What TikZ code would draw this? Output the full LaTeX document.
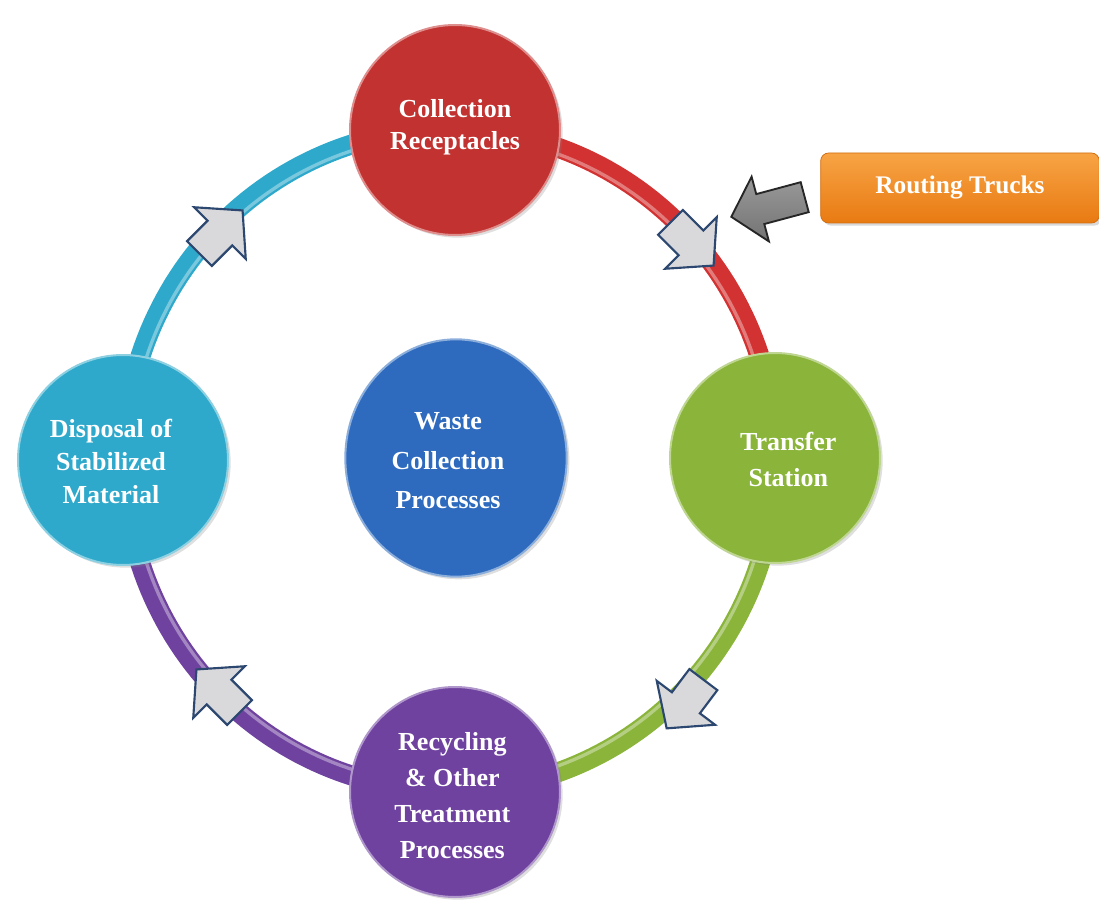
\documentclass[tikz,border=0pt]{standalone}
\usepackage{fontspec}
\setmainfont{Liberation Serif}
\usetikzlibrary{shadows,shapes.geometric}
\definecolor{cred}{HTML}{C23230}
\definecolor{rred}{HTML}{D33232}
\definecolor{cgreen}{HTML}{8AB43A}
\definecolor{cpurple}{HTML}{6F42A0}
\definecolor{ccyan}{HTML}{2FA9CB}
\definecolor{cblue}{HTML}{2E6BBE}
\definecolor{oranget}{HTML}{F7A445}
\definecolor{orangeb}{HTML}{E97A12}
\definecolor{agray}{HTML}{D9D9DB}
\definecolor{aedge}{HTML}{2C4870}
\definecolor{dgray}{HTML}{808080}
\tikzset{
  bubble/.style={circle, minimum size=157.5pt, inner sep=0pt, fill=#1, draw=#1!55!white, line width=1.5pt,
    drop shadow={opacity=0.25, shadow xshift=2pt, shadow yshift=-2pt}},
  txt/.style={align=center, text=white, font=\bfseries\fontsize{19.5}{#1}\selectfont},
  band/.style={line width=15pt, draw=#1},
  shine/.style={line width=2.5pt, draw=#1!55!white, opacity=0.8},
  blockarr/.pic={\draw[fill=agray, draw=aedge, line width=1.6pt, line join=miter]
     (-30.5,-17.5) -- (-1.5,-17.5) -- (-1.5,-36.5) -- (30.5,0) -- (-1.5,36.5) -- (-1.5,17.5) -- (-30.5,17.5) -- cycle;},
  grayarr/.pic={\draw[top color=dgray!80!white, bottom color=dgray!90!black, draw=black!85, line width=1.4pt, line join=miter]
     (-38,-15.5) -- (8,-15.5) -- (8,-33.5) -- (38,0) -- (8,33.5) -- (8,15.5) -- (-38,15.5) -- cycle;},
  routebox/.style={rounded corners=6pt, minimum width=209pt, minimum height=52.5pt, inner sep=0pt,
    top color=oranget, bottom color=orangeb, draw=orangeb!90!black, line width=0.6pt,
    text=white, font=\bfseries\fontsize{19}{23}\selectfont,
    drop shadow={opacity=0.3, shadow xshift=2pt, shadow yshift=-2pt}}
}
\begin{document}
\begin{tikzpicture}[x=0.75pt, y=-0.75pt]
\useasboundingbox (0,0) rectangle (1099,902);
% ring segments
\draw[band=rred] plot[domain=-90:0, samples=60] ({450+326*cos(\x)},{460+331*sin(\x)});
\draw[band=cgreen] plot[domain=0:90, samples=60] ({450+326*cos(\x)},{460+331*sin(\x)});
\draw[band=cpurple] plot[domain=90:180, samples=60] ({450+326*cos(\x)},{460+331*sin(\x)});
\draw[band=ccyan] plot[domain=180:270, samples=60] ({450+326*cos(\x)},{460+331*sin(\x)});
\draw[shine=rred] plot[domain=-90:0, samples=60] ({450+320*cos(\x)},{460+325*sin(\x)});
\draw[shine=cgreen] plot[domain=0:90, samples=60] ({450+320*cos(\x)},{460+325*sin(\x)});
\draw[shine=cpurple] plot[domain=90:180, samples=60] ({450+320*cos(\x)},{460+325*sin(\x)});
\draw[shine=ccyan] plot[domain=180:270, samples=60] ({450+320*cos(\x)},{460+325*sin(\x)});
% direction arrows
\pic[rotate=-45] at (692,244) {blockarr};
\pic[rotate=-127] at (685,704) {blockarr};
\pic[rotate=135] at (218,691) {blockarr};
\pic[rotate=45] at (221,232) {blockarr};
% circles
\node[bubble=cred, label={[txt=23.5, yshift=2pt]center:Collection\\Receptacles}] (top) at (455,130) {};
\node[bubble=cgreen, label={[txt=27, xshift=10pt, yshift=-1pt]center:Transfer\\Station}] (right) at (775,458) {};
\node[bubble=cpurple, label={[txt=27, xshift=-2pt, yshift=-3pt]center:Recycling\\\& Other\\Treatment\\Processes}] (bottom) at (455,792) {};
\node[bubble=ccyan, label={[txt=25, xshift=-9pt, yshift=-1pt]center:Disposal of\\Stabilized\\Material}] (left) at (123,460) {};
\node[ellipse, minimum width=166pt, minimum height=178pt, inner sep=0pt, fill=cblue, draw=cblue!55!white, line width=1.5pt,
  drop shadow={opacity=0.25, shadow xshift=2pt, shadow yshift=-2pt},
  label={[txt=29.5, xshift=-6pt, yshift=-2pt]center:Waste\\Collection\\Processes}] (center) at (456,458) {};
% routing trucks
\node[routebox] (rt) at (960,188) {Routing Trucks};
\pic[rotate=195] at (768,207) {grayarr};
\end{tikzpicture}
\end{document}
